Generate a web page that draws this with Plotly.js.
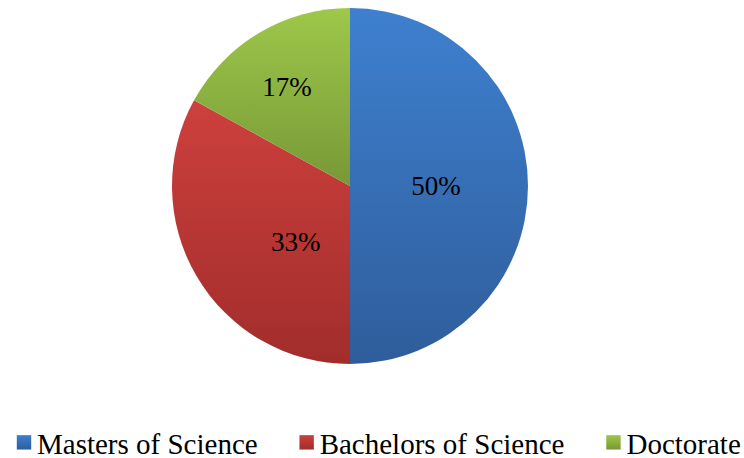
<!DOCTYPE html>
<html>
<head>
<meta charset="utf-8">
<script src="https://cdn.plot.ly/plotly-3.0.1.min.js"></script>
<style>
  html, body { margin: 0; padding: 0; background: #ffffff; }
  #chart { width: 744px; height: 458px; }
</style>
</head>
<body>
<div id="chart"></div>
<script>
// Share of degrees held
const degreeLabels = ['Masters of Science', 'Bachelors of Science', 'Doctorate'];
const degreeShares = [50, 33, 17];
const sliceColors = ['#3771BA', '#B93835', '#8BB041'];
// top / bottom stops of the vertical shading on each slice
const sliceShading = [['#3E80CF', '#2F5D9B'], ['#CD403D', '#A12D2B'], ['#9DC84A', '#789837']];
// small offsets (px) applied to the in-slice percentage labels
const labelNudge = [[-3, 0], [28, 7], [-3, 3]];

const W = 744, H = 458;
const serif = '"Liberation Serif", "Times New Roman", serif';
const LEGEND_TEXT_GAP = 62;   // from the end of one legend label to the start of the next
const SYMBOL_SHIFT = 7;       // pulls each legend swatch closer to its label

const trace = {
  type: 'pie',
  labels: degreeLabels,
  values: degreeShares,
  sort: false,
  direction: 'clockwise',
  rotation: 0,
  marker: { colors: sliceColors, line: { width: 0 } },
  texttemplate: '%{value}%',
  textposition: 'inside',
  insidetextorientation: 'horizontal',
  textfont: { family: serif, size: 27, color: '#000000' },
  hoverinfo: 'label+percent',
  domain: { x: [172 / W, 528 / W], y: [(H - 364) / H, (H - 8) / H] }
};

const layout = {
  width: W,
  height: H,
  margin: { l: 0, r: 0, t: 0, b: 0, autoexpand: false },
  paper_bgcolor: '#ffffff',
  font: { family: serif, size: 29, color: '#000000' },
  showlegend: true,
  legend: {
    orientation: 'h',
    x: -3 / W,
    xanchor: 'left',
    y: (H - 417) / H,
    yanchor: 'top',
    font: { family: serif, size: 29, color: '#000000' },
    itemclick: false
  }
};

function parseTranslate(el) {
  const m = /translate\(\s*([-\d.e]+)[ ,]+([-\d.e]+)\s*\)/.exec(el.getAttribute('transform') || '');
  return m ? [parseFloat(m[1]), parseFloat(m[2])] : [0, 0];
}

function finishStyling(gd) {
  const svgNS = 'http://www.w3.org/2000/svg';
  const svg = gd.querySelector('svg.main-svg');
  let defs = svg.querySelector('defs');
  if (!defs) { defs = document.createElementNS(svgNS, 'defs'); svg.insertBefore(defs, svg.firstChild); }
  sliceShading.forEach((stops, i) => {
    const g = document.createElementNS(svgNS, 'linearGradient');
    g.setAttribute('id', 'shade' + i);
    g.setAttribute('x1', '0'); g.setAttribute('y1', '0');
    g.setAttribute('x2', '0'); g.setAttribute('y2', '1');
    stops.forEach((c, k) => {
      const s = document.createElementNS(svgNS, 'stop');
      s.setAttribute('offset', k === 0 ? '0' : '1');
      s.setAttribute('stop-color', c);
      g.appendChild(s);
    });
    defs.appendChild(g);
  });

  // shaded slices and nudged percentage labels
  gd.querySelectorAll('.slice').forEach((sl, i) => {
    const p = sl.querySelector('path.surface');
    if (p) p.style.fill = 'url(#shade' + (i % sliceShading.length) + ')';
    const t = sl.querySelector('g.slicetext');
    const n = labelNudge[i];
    if (t && n) t.setAttribute('transform', 'translate(' + n[0] + ',' + n[1] + ') ' + (t.getAttribute('transform') || ''));
  });

  // legend: one row, shaded swatches, tighter swatch/label spacing, wider spacing between entries
  const scrollbox = gd.querySelector('.legend .scrollbox');
  if (scrollbox) scrollbox.removeAttribute('clip-path');
  let nextStart = null;
  let rowY = null;
  gd.querySelectorAll('.legend .traces').forEach((tr, i) => {
    const p = tr.querySelector('.legendpoints path');
    if (p) {
      const [px, py] = parseTranslate(p);
      p.style.fill = 'url(#shade' + (i % sliceShading.length) + ')';
      p.setAttribute('transform', 'translate(' + (px + SYMBOL_SHIFT) + ',' + py + ') scale(1.2)');
    }
    const txt = tr.querySelector('text.legendtext');
    const textX = parseFloat(txt.getAttribute('x')) || 0;
    const [tx, ty] = parseTranslate(tr);
    if (rowY === null) rowY = ty;
    const newX = nextStart === null ? tx : nextStart - textX;
    tr.setAttribute('transform', 'translate(' + newX + ',' + rowY + ')');
    nextStart = newX + textX + txt.getComputedTextLength() + LEGEND_TEXT_GAP;
  });
}

Plotly.newPlot('chart', [trace], layout, { displayModeBar: false, staticPlot: true })
  .then(finishStyling);
</script>
</body>
</html>
